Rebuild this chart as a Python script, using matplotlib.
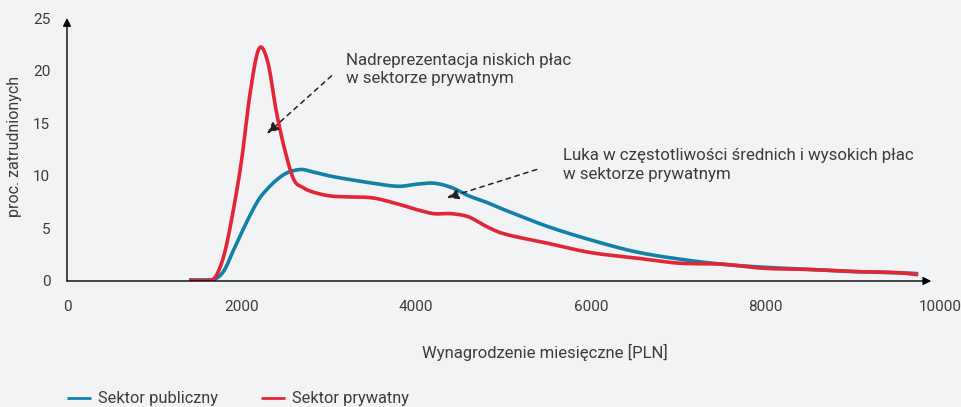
import matplotlib.pyplot as plt
import numpy as np

# salary grid [PLN] and share of employees [%]
salary = [1400, 1600, 1700, 1800, 1900, 2000, 2100, 2200, 2300, 2400, 2500,
          2600, 2700, 2800, 3000, 3200, 3500, 3800, 4000, 4200, 4400, 4600,
          4800, 5000, 5500, 6000, 6500, 7000, 7500, 8000, 8500, 9000, 9500, 9750]

public = [0.1, 0.1, 0.2, 1.0, 2.8, 4.6, 6.3, 7.8, 8.8, 9.6, 10.2,
          10.5, 10.6, 10.4, 10.0, 9.7, 9.3, 9.0, 9.2, 9.3, 8.9, 8.1,
          7.5, 6.8, 5.2, 3.9, 2.8, 2.1, 1.6, 1.3, 1.1, 0.9, 0.8, 0.7]

private = [0.1, 0.05, 0.4, 2.5, 6.5, 11.5, 18.0, 22.1, 20.8, 16.0, 12.3,
           9.6, 8.9, 8.5, 8.1, 8.0, 7.9, 7.3, 6.8, 6.4, 6.4, 6.1,
           5.2, 4.5, 3.6, 2.7, 2.2, 1.7, 1.6, 1.2, 1.1, 0.9, 0.8, 0.6]

x_ticks = [0, 2000, 4000, 6000, 8000, 10000]
y_ticks = [0, 5, 10, 15, 20, 25]

BG = '#f1f3f5'
BLUE = '#1380a8'
RED = '#e32636'
TXT = '#3c3c3c'

plt.rcParams['font.family'] = ['Roboto', 'DejaVu Sans']

fig = plt.figure(figsize=(9.62, 4.07), dpi=100, facecolor=BG)
ax = fig.add_axes([67 / 962, 1 - 281 / 407, 873 / 962, 263 / 407])
ax.set_facecolor(BG)


def smooth(xs, ys):
    # cubic Hermite through the read points (Catmull-Rom slopes)
    xs = np.asarray(xs, float)
    ys = np.asarray(ys, float)
    px, py = [], []
    for i in range(len(xs) - 1):
        x0, x1 = xs[i], xs[i + 1]
        y0, y1 = ys[i], ys[i + 1]
        m0 = (ys[i + 1] - ys[i - 1]) / (xs[i + 1] - xs[i - 1]) if i > 0 else (y1 - y0) / (x1 - x0)
        m1 = (ys[i + 2] - ys[i]) / (xs[i + 2] - xs[i]) if i < len(xs) - 2 else (y1 - y0) / (x1 - x0)
        t = np.linspace(0, 1, 20, endpoint=False)
        h = x1 - x0
        h00 = 2 * t**3 - 3 * t**2 + 1
        h10 = t**3 - 2 * t**2 + t
        h01 = -2 * t**3 + 3 * t**2
        h11 = t**3 - t**2
        px.extend(x0 + t * h)
        py.extend(h00 * y0 + h10 * h * m0 + h01 * y1 + h11 * h * m1)
    px.append(xs[-1])
    py.append(ys[-1])
    return np.array(px), np.array(py)


sx, sy = smooth(salary, public)
ax.plot(sx, sy, color=BLUE, lw=2.6, solid_capstyle='butt', label='Sektor publiczny')
sx, sy = smooth(salary, private)
ax.plot(sx, sy, color=RED, lw=2.6, solid_capstyle='butt', label='Sektor prywatny')

ax.set_xlim(0, 10000)
ax.set_ylim(0, 25)
for s in ax.spines.values():
    s.set_visible(False)

# axes with arrows
ax.annotate('', xy=(9900, 0), xytext=(0, 0),
            arrowprops=dict(arrowstyle='-|>', color='black', lw=1,
                            mutation_scale=12, shrinkA=0, shrinkB=0))
ax.annotate('', xy=(0, 25), xytext=(0, 0),
            arrowprops=dict(arrowstyle='-|>', color='black', lw=1,
                            mutation_scale=12, shrinkA=0, shrinkB=0))

ax.set_xticks(x_ticks)
ax.set_yticks(y_ticks)
ax.tick_params(length=0, labelsize=11, colors=TXT, pad=12)
ax.tick_params(axis='x', pad=14)

fig.text(545 / 962, 1 - 352 / 407, 'Wynagrodzenie miesięczne [PLN]',
         ha='center', va='center', fontsize=12, color=TXT)
fig.text(15 / 962, 1 - 146 / 407, 'proc. zatrudnionych', rotation=90,
         ha='center', va='center', fontsize=11.5, color=TXT)

# annotations
ax.annotate('', xy=(2290, 14.0), xytext=(3030, 19.5),
            arrowprops=dict(arrowstyle='-|>,head_length=0.7,head_width=0.3',
                            color='#222222', lw=1.1, ls=(0, (3, 3)),
                            shrinkA=0, shrinkB=0))
ax.text(3196, 20.1, 'Nadreprezentacja niskich płac\nw sektorze prywatnym',
        ha='left', va='center', fontsize=12.2, color=TXT, linespacing=1.3)

ax.annotate('', xy=(4350, 7.9), xytext=(5380, 10.6),
            arrowprops=dict(arrowstyle='-|>,head_length=0.7,head_width=0.3',
                            color='#222222', lw=1.1, ls=(0, (3, 3)),
                            shrinkA=0, shrinkB=0))
ax.text(5682, 11.0, 'Luka w częstotliwości średnich i wysokich płac\nw sektorze prywatnym',
        ha='left', va='center', fontsize=12.2, color=TXT, linespacing=1.3)

fig.legend(loc='lower left', bbox_to_anchor=(52 / 962, -0.035), ncol=2,
           frameon=False, fontsize=11.8, handlelength=1.5, handletextpad=0.4,
           columnspacing=2.6, labelcolor=TXT)
for line in fig.legends[0].get_lines():
    line.set_linewidth(2)

fig.savefig('out.png', dpi=100, facecolor=BG)
